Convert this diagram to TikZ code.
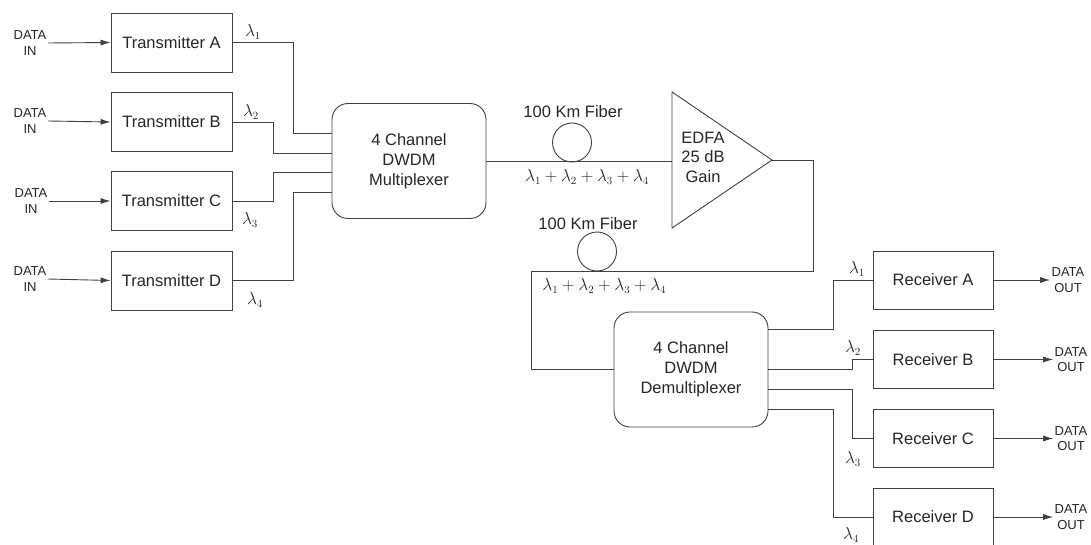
\documentclass[tikz,border=0pt]{standalone}
\usepackage{fontspec}
\setmainfont{Liberation Sans}
\usetikzlibrary{arrows.meta,calc}
\begin{document}
\begin{tikzpicture}[x=1pt,y=-1pt,
  line width=0.9pt,
  wire/.style={draw=black!75},
  arr/.style={wire,-{Latex[length=10pt,width=6pt]}},
  block/.style={draw=black!75,rectangle,minimum width=121pt,minimum height=59pt,
    inner sep=0pt,font=\fontsize{16.5}{20}\selectfont,text=black!85},
  mux/.style={draw=black!75,rectangle,rounded corners=16pt,minimum width=154pt,
    minimum height=115pt,align=center,font=\fontsize{16.5}{20}\selectfont,text=black!85},
  io/.style={align=center,inner sep=1pt,font=\fontsize{13}{15.5}\selectfont,text=black!85},
  lam/.style={inner sep=0pt,font=\fontsize{16}{19}\selectfont,text=black!85},
  fibertxt/.style={inner sep=0pt,font=\fontsize{16.5}{20}\selectfont,text=black!85},
  fiber/.style={draw=black!75,circle,minimum size=39pt,inner sep=0pt}]
\useasboundingbox (0,0) rectangle (1091,545);

% transmitters
\node[block] (tA) at (171.5,42.5) {Transmitter A};
\node[block] (tB) at (171.5,122) {Transmitter B};
\node[block] (tC) at (171.5,201) {Transmitter C};
\node[block] (tD) at (171.5,280.5) {Transmitter D};

\node[io] (dA) at (30,43) {DATA\\IN};
\node[io] (dB) at (30,121) {DATA\\IN};
\node[io] (dC) at (31,201) {DATA\\IN};
\node[io] (dD) at (30,279) {DATA\\IN};
\draw[arr] (dA.east) -- (tA.west);
\draw[arr] (dB.east) -- (tB.west);
\draw[arr] (dC.east) -- (tC.west);
\draw[arr] (dD.east) -- (tD.west);

% multiplexer
\node[mux] (mx) at (409,161) {4 Channel\\DWDM\\Multiplexer};
\draw[wire] (tA.east) -| (293,133) -- ([yshift=28pt]mx.west);
\draw[wire] (tB.east) -| (273,153) -- ([yshift=8pt]mx.west);
\draw[wire] (tC.east) -| (273,172) -- ([yshift=-11pt]mx.west);
\draw[wire] (tD.east) -| (293,192) -- ([yshift=-31pt]mx.west);

\node[lam] at (253,32) {$\lambda_1$};
\node[lam] at (251,112) {$\lambda_2$};
\node[lam] at (250,220) {$\lambda_3$};
\node[lam] at (255,300) {$\lambda_4$};

% first fibre span and amplifier
\coordinate (edfaT) at (672,92);
\coordinate (edfaB) at (672,228);
\coordinate (edfaL) at (672,161);
\coordinate (edfaO) at (772,160);
\draw[wire] (edfaT) -- (edfaO) -- (edfaB) -- cycle;
\node[align=center,font=\fontsize{16.5}{19.5}\selectfont,text=black!85] (edfa) at (703,157) {EDFA\\25 dB\\Gain};

\node[fiber] (f1) at (572,142.5) {};
\draw[wire] (mx.east) -- (edfaL);
\node[fibertxt] at (573,112) {100 Km Fiber};
\node[lam] at (587,177) {$\lambda_1+\lambda_2+\lambda_3+\lambda_4$};

% second fibre span
\node[mux] (dmx) at (691,369.5) {4 Channel\\DWDM\\Demultiplexer};
\node[fiber] (f2) at (597,251.5) {};
\draw[wire] (edfaO) -- (813,160) |- (531,271) |- (dmx.west);
\node[fibertxt] at (588,224) {100 Km Fiber};
\node[lam,anchor=west] at (542,286) {$\lambda_1+\lambda_2+\lambda_3+\lambda_4$};

% receivers
\node[block,minimum width=120pt,minimum height=58pt] (rA) at (933,280) {Receiver A};
\node[block,minimum width=120pt,minimum height=58pt] (rB) at (933,359.5) {Receiver B};
\node[block,minimum width=120pt,minimum height=58pt] (rC) at (933,438.5) {Receiver C};
\node[block,minimum width=120pt,minimum height=58pt] (rD) at (933,517) {Receiver D};

\draw[wire] ([yshift=40.5pt]dmx.east) -| (833,280) -- (rA.west);
\draw[wire] ([yshift=0.5pt]dmx.east) -| (852,359.5) -- (rB.west);
\draw[wire] ([yshift=-19.5pt]dmx.east) -| (852,438.5) -- (rC.west);
\draw[wire] ([yshift=-39.5pt]dmx.east) -| (833,517) -- (rD.west);

\node[lam] at (857,269) {$\lambda_1$};
\node[lam] at (853,348) {$\lambda_2$};
\node[lam] at (853,459) {$\lambda_3$};
\node[lam] at (851,535) {$\lambda_4$};

\node[io] (oA) at (1068,280) {DATA\\OUT};
\node[io] (oB) at (1071,359.5) {DATA\\OUT};
\node[io] (oC) at (1071,438.5) {DATA\\OUT};
\node[io] (oD) at (1071,517) {DATA\\OUT};
\draw[arr] (rA.east) -- (oA.west);
\draw[arr] (rB.east) -- (oB.west);
\draw[arr] (rC.east) -- (oC.west);
\draw[arr] (rD.east) -- (oD.west);
\end{tikzpicture}
\end{document}
